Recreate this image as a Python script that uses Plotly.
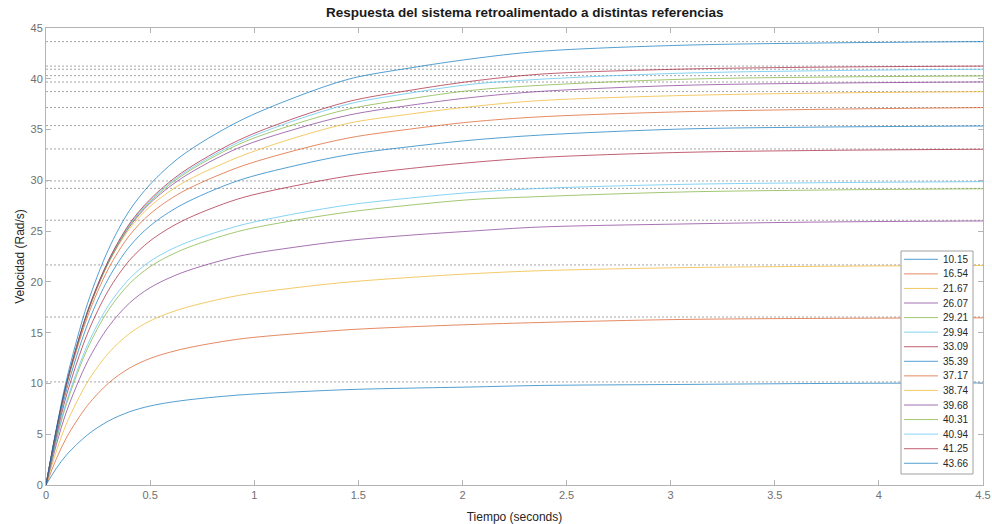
import plotly.graph_objects as go

# time samples (s)
t = [0, 0.05, 0.1, 0.2, 0.3, 0.4, 0.5, 0.65, 0.92, 1.2, 1.46, 1.75, 2.04, 2.37, 3.05, 3.75, 4.5]

# reference values (legend labels, dotted lines)
refs = [10.15, 16.54, 21.67, 26.07, 29.21, 29.94, 33.09, 35.39, 37.17,
        38.74, 39.68, 40.31, 40.94, 41.25, 43.66]

# speed responses (Rad/s)
y_1015 = [0, 1.65, 3.0, 4.95, 6.3, 7.2, 7.78, 8.3, 8.85, 9.17, 9.4, 9.54, 9.65, 9.8, 9.9, 10.0, 10.05]
y_1654 = [0, 2.59, 4.73, 7.85, 10.03, 11.5, 12.46, 13.36, 14.35, 14.9, 15.3, 15.58, 15.8, 16.0, 16.3, 16.41, 16.46]
y_2167 = [0, 3.34, 6.12, 10.16, 12.98, 14.9, 16.16, 17.34, 18.65, 19.43, 20.0, 20.44, 20.8, 21.1, 21.4, 21.54, 21.62]
y_2607 = [0, 3.99, 7.32, 12.18, 15.58, 17.9, 19.43, 20.88, 22.5, 23.43, 24.1, 24.6, 25.0, 25.4, 25.7, 25.9, 26.0]
y_2921 = [0, 4.4, 8.08, 13.46, 17.23, 19.8, 21.5, 23.12, 24.95, 26.08, 26.9, 27.56, 28.1, 28.4, 28.85, 29.05, 29.17]
y_2994 = [0, 4.53, 8.31, 13.82, 17.68, 20.3, 22.03, 23.66, 25.5, 26.72, 27.6, 28.26, 28.8, 29.2, 29.6, 29.77, 29.87]
y_3309 = [0, 4.84, 8.94, 14.95, 19.18, 22.1, 24.04, 25.95, 28.15, 29.48, 30.45, 31.17, 31.75, 32.25, 32.75, 32.95, 33.06]
y_3539 = [0, 5.12, 9.46, 15.85, 20.34, 23.45, 25.52, 27.57, 29.95, 31.46, 32.55, 33.32, 33.95, 34.45, 35.05, 35.25, 35.35]
y_3717 = [0, 5.33, 9.9, 16.6, 21.31, 24.55, 26.7, 28.81, 31.25, 32.96, 34.2, 35.05, 35.75, 36.25, 36.75, 37.0, 37.16]
y_3874 = [0, 5.4, 10.0, 16.95, 21.84, 25.2, 27.43, 29.66, 32.25, 34.22, 35.65, 36.53, 37.25, 37.85, 38.35, 38.6, 38.73]
y_3968 = [0, 5.42, 10.04, 17.0, 21.92, 25.4, 27.75, 30.19, 33.15, 35.06, 36.45, 37.39, 38.15, 38.75, 39.35, 39.57, 39.69]
y_4031 = [0, 5.44, 10.07, 17.05, 21.97, 25.5, 27.89, 30.42, 33.5, 35.56, 37.05, 38.04, 38.85, 39.35, 39.95, 40.17, 40.28]
y_4094 = [0, 5.46, 10.1, 17.1, 22.04, 25.6, 28.01, 30.56, 33.7, 35.93, 37.55, 38.6, 39.45, 39.95, 40.55, 40.8, 40.94]
y_4125 = [0, 5.48, 10.13, 17.15, 22.12, 25.7, 28.13, 30.72, 33.9, 36.16, 37.8, 38.87, 39.75, 40.45, 40.95, 41.15, 41.25]
y_4366 = [0, 5.6, 10.5, 17.9, 23.2, 27.0, 29.6, 32.4, 35.75, 38.2, 40.0, 41.07, 41.95, 42.7, 43.3, 43.53, 43.66]

series = [y_1015, y_1654, y_2167, y_2607, y_2921, y_2994, y_3309, y_3539,
          y_3717, y_3874, y_3968, y_4031, y_4094, y_4125, y_4366]

x_ticks = [0, 0.5, 1, 1.5, 2, 2.5, 3, 3.5, 4, 4.5]
x_ticklabels = ["0", "0.5", "1", "1.5", "2", "2.5", "3", "3.5", "4", "4.5"]
y_ticks = [0, 5, 10, 15, 20, 25, 30, 35, 40, 45]

palette = ["#0072BD", "#D95319", "#EDB120", "#7E2F8E", "#77AC30", "#4DBEEE", "#A2142F"]
LINE_OPACITY = 0.68

FONT = "Liberation Sans, Arial, Helvetica, sans-serif"

W, H = 992, 524
ML, MR, MT, MB = 46, 9, 28, 39
PW, PH = W - ML - MR, H - MT - MB


def px_x(p):  # pixel -> paper x
    return (p - ML) / PW


def px_y(p):  # pixel (from top) -> paper y
    return (H - MB - p) / PH


def rgba(hex_color, a):
    h = hex_color.lstrip("#")
    r, g, b = int(h[0:2], 16), int(h[2:4], 16), int(h[4:6], 16)
    return f"rgba({r},{g},{b},{a})"


fig = go.Figure()

# dotted reference lines
for r in refs:
    fig.add_trace(go.Scatter(
        x=[x_ticks[0], x_ticks[-1]], y=[r, r], mode="lines",
        line=dict(color="#a6a6a6", width=1, dash="2px,2px"),
        showlegend=False, hoverinfo="skip"))

for i, (r, ys) in enumerate(zip(refs, series)):
    fig.add_trace(go.Scatter(
        x=t, y=ys, mode="lines", name=f"{r:.2f}",
        line=dict(color=rgba(palette[i % len(palette)], LINE_OPACITY), width=1,
                  shape="spline", smoothing=0.9),
        showlegend=False))

# compact MATLAB-like legend box (lower right inside axes)
LEG_L, LEG_R, LEG_T, LEG_B = 901, 973, 251, 474
ROW0, ROW_STEP = 259.3, 14.57
shapes = [dict(type="rect", xref="paper", yref="paper",
               x0=px_x(LEG_L), x1=px_x(LEG_R), y0=px_y(LEG_B), y1=px_y(LEG_T),
               line=dict(color="#a0a0a0", width=1), fillcolor="white", layer="above")]
annotations = []
for i, r in enumerate(refs):
    yy = ROW0 + ROW_STEP * i
    shapes.append(dict(type="line", xref="paper", yref="paper",
                       x0=px_x(904), x1=px_x(938), y0=px_y(yy), y1=px_y(yy),
                       line=dict(color=rgba(palette[i % len(palette)], LINE_OPACITY), width=1),
                       layer="above"))
    annotations.append(dict(text=f"{r:.2f}", xref="paper", yref="paper",
                            x=px_x(969.5), y=px_y(yy), xanchor="right", yanchor="middle",
                            showarrow=False,
                            font=dict(family=FONT, size=10, color="#262626")))

axis_common = dict(
    showgrid=False, zeroline=False, showline=True, linecolor="#b4b4b4", linewidth=1,
    mirror="ticks", ticks="inside", ticklen=5, tickcolor="#b4b4b4", automargin=False,
    tickfont=dict(family=FONT, size=11, color="#707070"))

fig.update_layout(
    width=W, height=H,
    margin=dict(l=ML, r=MR, t=MT, b=MB),
    paper_bgcolor="white", plot_bgcolor="white",
    font=dict(family=FONT, color="#262626"),
    title=dict(text="<b>Respuesta del sistema retroalimentado a distintas referencias</b>",
               x=0.529, xanchor="center", y=0.976, yanchor="middle",
               font=dict(family=FONT, size=13.5, color="#1a1a1a")),
    xaxis=dict(range=[0, 4.5], tickvals=x_ticks, ticktext=x_ticklabels,
               title=dict(text="Tiempo (seconds)",
                          font=dict(family=FONT, size=12, color="#262626")),
               **axis_common),
    yaxis=dict(range=[0, 45], tickvals=y_ticks,
               title=dict(text="Velocidad (Rad/s)", standoff=3,
                          font=dict(family=FONT, size=12, color="#262626")),
               **axis_common),
    shapes=shapes,
    annotations=annotations,
    showlegend=False,
)

fig.write_html("out.html",
               config={"displayModeBar": False},
               post_script="document.body.style.margin='0';document.body.style.padding='0';")
